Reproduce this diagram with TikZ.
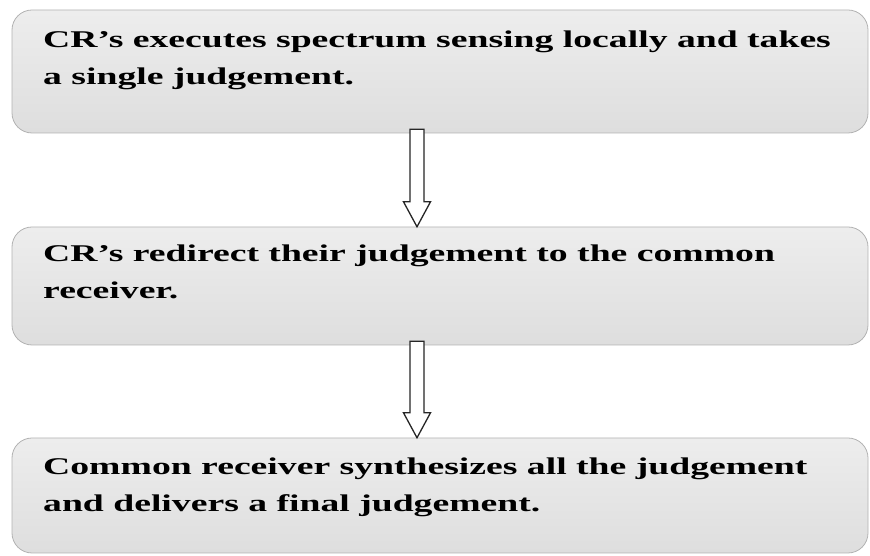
\documentclass[tikz,border=0pt]{standalone}
\usepackage{fontspec}
\setmainfont{Liberation Serif}
\newfontfamily\stretchedserif[FakeStretch=1.57]{Liberation Serif}
\usetikzlibrary{calc}
\tikzset{
  box/.style={rounded corners=20pt, draw=gray!60, line width=0.8pt,
    top color=gray!14, middle color=gray!5, bottom color=gray!26},
  txt/.style={anchor=base west, align=left, inner sep=0pt,
    font=\stretchedserif\fontsize{24}{37}\selectfont\bfseries},
  hollow/.style={draw=black!85, fill=white, line width=1.3pt, line join=miter}
}
\begin{document}
\begin{tikzpicture}[x=1pt,y=1pt]
\useasboundingbox (0,0) rectangle (870,556);
\path[box] (12,423) rectangle (868,546);
\node[inner sep=0pt, minimum width=856pt, minimum height=123pt] (b1) at (440,484.5) {};
\path[box] (12,211) rectangle (868,329);
\node[inner sep=0pt, minimum width=856pt, minimum height=118pt] (b2) at (440,270) {};
\path[box] (12,3) rectangle (868,118);
\node[inner sep=0pt, minimum width=856pt, minimum height=115pt] (b3) at (440,60.5) {};
\node[txt] (t1) at (43,471) {CR’s executes spectrum sensing locally and takes\\a single judgement.};
\node[txt] (t2) at (43,257) {CR’s redirect their judgement to the common\\receiver.};
\node[txt] (t3) at (43,44) {Common receiver synthesizes all the judgement\\and delivers a final judgement.};
\coordinate (a1s) at ($(b1.south)+(-23,4)$);
\coordinate (a1e) at ($(b2.north)+(-23,0)$);
\draw[hollow] ($(a1s)+(-7,0)$) -- ($(a1s)+(7,0)$) -- ($(a1e)+(7,25)$) -- ($(a1e)+(13.5,25)$) -- (a1e) -- ($(a1e)+(-13.5,25)$) -- ($(a1e)+(-7,25)$) -- cycle;
\coordinate (a2s) at ($(b2.south)+(-23,4)$);
\coordinate (a2e) at ($(b3.north)+(-23,0)$);
\draw[hollow] ($(a2s)+(-7,0)$) -- ($(a2s)+(7,0)$) -- ($(a2e)+(7,25)$) -- ($(a2e)+(13.5,25)$) -- (a2e) -- ($(a2e)+(-13.5,25)$) -- ($(a2e)+(-7,25)$) -- cycle;
\end{tikzpicture}
\end{document}
